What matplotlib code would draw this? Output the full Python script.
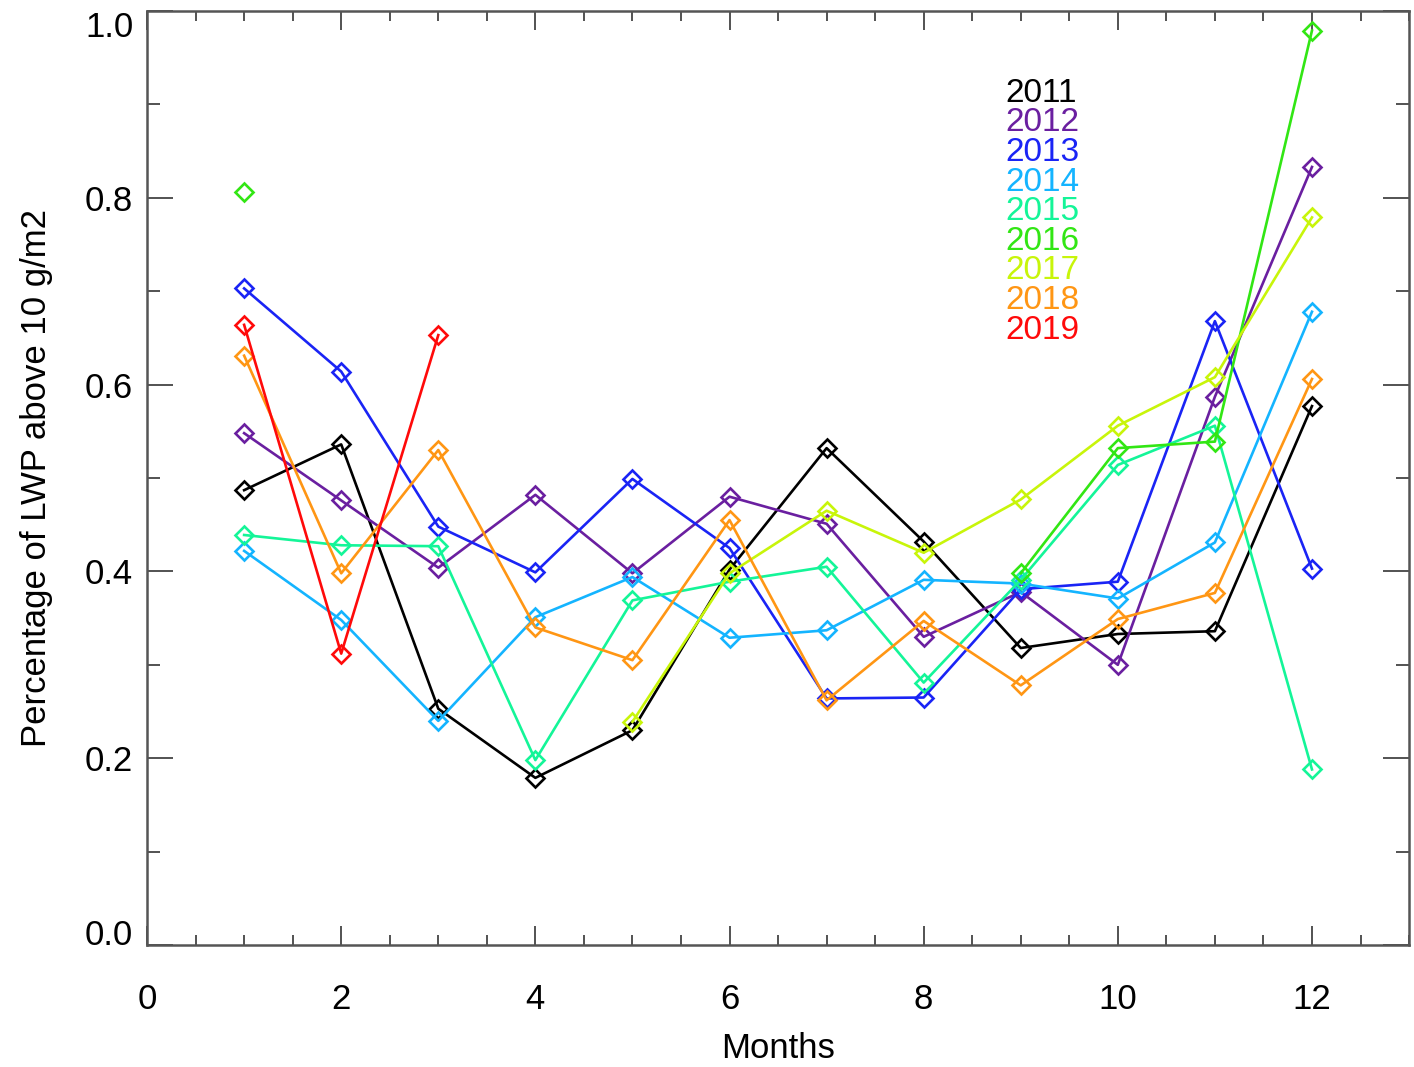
import numpy as np
import matplotlib
matplotlib.use("Agg")
import matplotlib.pyplot as plt
from matplotlib.ticker import MultipleLocator

nan = np.nan
months = np.arange(1, 13)
years = ["2011", "2012", "2013", "2014", "2015", "2016", "2017", "2018", "2019"]

y2011 = [0.487, 0.536, 0.253, 0.179, 0.230, 0.402, 0.532, 0.432, 0.318, 0.333, 0.336, 0.577]
y2012 = [0.548, 0.476, 0.404, 0.482, 0.398, 0.480, 0.451, 0.330, 0.378, 0.300, 0.587, 0.833]
y2013 = [0.703, 0.614, 0.448, 0.399, 0.499, 0.425, 0.264, 0.265, 0.381, 0.389, 0.668, 0.403]
y2014 = [0.422, 0.348, 0.240, 0.351, 0.394, 0.329, 0.337, 0.391, 0.387, 0.371, 0.431, 0.678]
y2015 = [0.439, 0.428, 0.427, 0.198, 0.369, 0.389, 0.405, 0.281, 0.391, 0.514, 0.556, 0.188]
y2016 = [0.806, nan, nan, nan, nan, nan, nan, nan, 0.398, 0.532, 0.539, 0.979]
y2017 = [nan, nan, nan, nan, 0.239, 0.398, 0.465, 0.420, 0.477, 0.556, 0.608, 0.779]
y2018 = [0.631, 0.398, 0.530, 0.340, 0.305, 0.455, 0.262, 0.347, 0.278, 0.349, 0.377, 0.606]
y2019 = [0.664, 0.312, 0.653, nan, nan, nan, nan, nan, nan, nan, nan, nan]

series = [y2011, y2012, y2013, y2014, y2015, y2016, y2017, y2018, y2019]
colors = ["#000000", "#6a1fa0", "#1a24f5", "#14b4ff", "#14f598", "#32e614",
          "#c8f50a", "#ff9614", "#ff0a0a"]

plt.rcParams["font.family"] = ["Liberation Sans", "DejaVu Sans"]

fig = plt.figure(figsize=(14.14, 10.67), dpi=100)
ax = fig.add_axes([0.104, 0.1143, 0.8925, 0.8754])

for vals, col in zip(series, colors):
    ax.plot(months, vals, color=col, lw=1.9, marker="D", ms=9.5,
            mfc="none", mec=col, mew=1.9)

ax.set_xlim(0, 13)
ax.set_ylim(0, 1.0)
ax.xaxis.set_major_locator(MultipleLocator(2))
ax.xaxis.set_minor_locator(MultipleLocator(0.5))
ax.set_yticks([0.0, 0.2, 0.4, 0.6, 0.8, 1.0])
ax.set_yticklabels(["0.0", "0.2", "0.4", "0.6", "0.8", "1.0"])
ax.yaxis.set_minor_locator(MultipleLocator(0.1))

ax.tick_params(axis="x", which="major", direction="in", length=14, width=1.3,
               top=True, labelsize=25, pad=27, colors="#444444", labelcolor="black")
ax.tick_params(axis="x", which="minor", direction="in", length=7, width=1.3,
               top=True, colors="#444444")
ax.tick_params(axis="y", which="major", direction="in", length=19, width=1.3,
               right=True, labelsize=25, pad=10, colors="#444444", labelcolor="black")
ax.tick_params(axis="y", which="minor", direction="in", length=9.5, width=1.3,
               right=True, colors="#444444")

yt = ax.yaxis.get_major_ticks()
yt[0].label1.set_va("baseline")
yt[-1].label1.set_va("top")

for s in ax.spines.values():
    s.set_color("#555555")
    s.set_linewidth(1.8)

ax.set_xlabel("Months", fontsize=25, labelpad=12)
ax.set_ylabel("Percentage of LWP above 10 g/m2", fontsize=25, labelpad=23)

# year legend as coloured text
for i, (yr, col) in enumerate(zip(years, colors)):
    ax.text(0.680, 0.912 - i * 0.0317, yr, color=col, fontsize=24,
            transform=ax.transAxes, ha="left", va="center")

fig.savefig("out.png", dpi=100)
